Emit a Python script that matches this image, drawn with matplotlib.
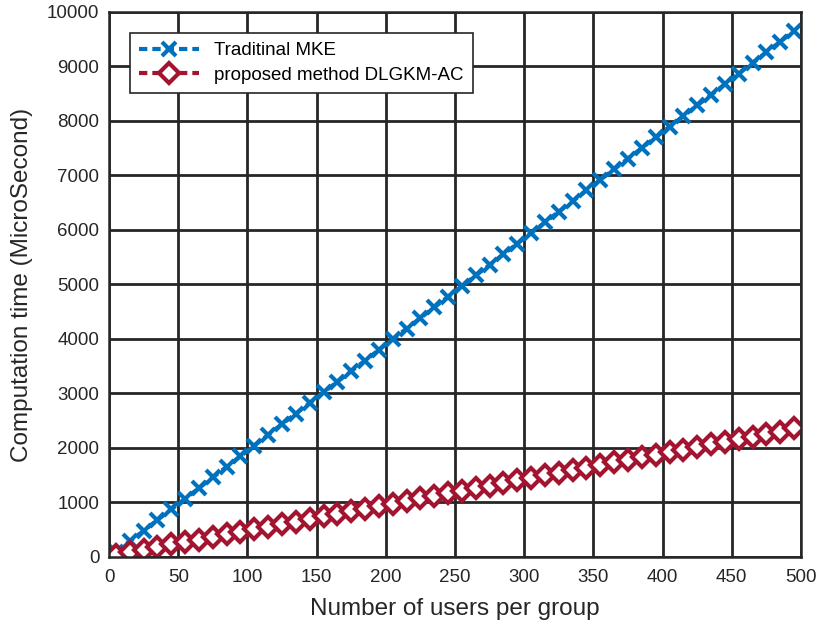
import numpy as np
import matplotlib
matplotlib.use("Agg")
import matplotlib.pyplot as plt

# --- DATA ---
users = [5, 15, 25, 35, 45, 55, 65, 75, 85, 95,
         105, 115, 125, 135, 145, 155, 165, 175, 185, 195,
         205, 215, 225, 235, 245, 255, 265, 275, 285, 295,
         305, 315, 325, 335, 345, 355, 365, 375, 385, 395,
         405, 415, 425, 435, 445, 455, 465, 475, 485, 495]

mke_time = [100, 290, 480, 680, 875, 1070, 1265, 1460, 1655, 1850,
            2045, 2240, 2440, 2630, 2825, 3020, 3215, 3410, 3605, 3800,
            3995, 4190, 4385, 4580, 4775, 4970, 5165, 5360, 5555, 5750,
            5945, 6140, 6335, 6530, 6725, 6920, 7115, 7310, 7505, 7700,
            7895, 8090, 8285, 8480, 8675, 8870, 9065, 9260, 9455, 9650]

dlgkm_time = [40, 90, 135, 180, 230, 275, 320, 370, 415, 460,
              510, 555, 600, 650, 700, 745, 790, 840, 885, 935,
              980, 1030, 1075, 1120, 1170, 1215, 1265, 1310, 1360, 1405,
              1455, 1500, 1545, 1595, 1640, 1690, 1735, 1785, 1830, 1880,
              1925, 1970, 2020, 2065, 2110, 2160, 2205, 2255, 2300, 2360]

labels = ["Traditinal MKE", "proposed method DLGKM-AC"]

# --- STYLE ---
plt.rcParams['font.family'] = ['Liberation Sans', 'DejaVu Sans']
BLUE = "#0072BD"
RED = "#A2142F"
GRID = "#262626"

fig = plt.figure(figsize=(8.19, 6.31), dpi=100)
ax = fig.add_axes([0.1331, 0.1173, 0.8449, 0.8637])

ax.plot(users, mke_time, linestyle=(0, (2.0, 1.2)), color=BLUE, linewidth=3,
        marker='x', markersize=10, markeredgewidth=3, label=labels[0])
ax.plot(users, dlgkm_time, linestyle=(0, (2.0, 1.2)), color=RED, linewidth=3,
        marker='D', markersize=10.5, markeredgewidth=3,
        markerfacecolor='white', label=labels[1])

ax.set_xlim(0, 500)
ax.set_ylim(0, 10000)
ax.set_xticks(np.arange(0, 501, 50))
ax.set_yticks(np.arange(0, 10001, 1000))
ax.grid(True, color=GRID, linewidth=2, alpha=1)
ax.set_axisbelow(True)

for s in ax.spines.values():
    s.set_color(GRID)
    s.set_linewidth(1.8)
ax.tick_params(direction='in', length=0, labelsize=13.5, colors=GRID)
ax.tick_params(axis='y', pad=7)
ax.tick_params(axis='x', pad=9)

ax.set_xlabel("Number of users per group", fontsize=17.5, color=GRID, labelpad=8)
ax.set_ylabel("Computation time (MicroSecond)", fontsize=17.5, color=GRID, labelpad=10)

leg = ax.legend(loc='upper left', bbox_to_anchor=(0.03, 0.962), fontsize=13.5,
                fancybox=False, framealpha=1, edgecolor=GRID,
                handlelength=3.2, borderpad=0.5, labelspacing=0.4,
                borderaxespad=0)
leg.get_frame().set_linewidth(1.2)

fig.savefig("out.png", dpi=100)
